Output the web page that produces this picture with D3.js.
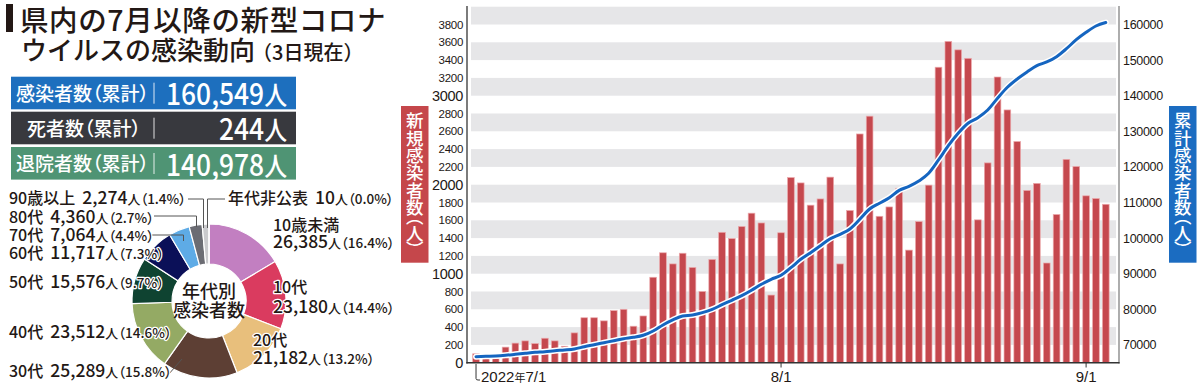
<!DOCTYPE html>
<html>
<head>
<meta charset="utf-8">
<script src="https://cdn.jsdelivr.net/npm/d3@7"></script>
<style>
  body { margin: 0; background: #fff; }
  svg { display: block; font-family: "Noto Sans CJK JP", "Noto Sans", sans-serif; }
</style>
</head>
<body>
<svg width="1200" height="387"></svg>
<script>
// ---- data ----
var dailyCases = [100, 50, 50, 175, 220, 245, 215, 275, 245, 185,
    335, 505, 505, 470, 585, 600, 410, 525, 960, 1235,
    1110, 1230, 1070, 800, 1160, 1465, 1395, 1530, 1680, 1570,
    760, 1460, 2080, 2020, 1770, 1840, 2085, 1110, 1710, 2570,
    2770, 1645, 1750, 1960, 1265, 1585, 1995, 3320, 3610, 3515,
    3420, 1605, 2245, 3210, 2840, 2485, 1935, 2015, 1120, 1665,
    2285, 2205, 1875, 1845, 1780];
var cumulativeCases = [66700, 66800, 66880, 67080, 67360, 67640, 67920, 68090, 68370, 68570,
    68850, 69490, 70060, 70620, 71180, 71740, 72130, 72700, 73900, 75590,
    77000, 78120, 78400, 79050, 80000, 81290, 82530, 83820, 85340, 87020,
    88430, 89550, 91690, 94040, 95900, 97870, 99830, 101070, 102560, 105280,
    108170, 109780, 111350, 113400, 114540, 116040, 118200, 121940, 125960, 129440,
    132250, 133820, 135980, 139270, 142360, 144690, 146660, 148430, 149470, 150960,
    153200, 155730, 157810, 159580, 160549];
var days = d3.timeDay.range(new Date(2022, 6, 1), new Date(2022, 8, 4));
var leftTicks = d3.range(0, 4000, 200);
var bigLeftTicks = [0, 1000, 2000, 3000];
var rightTicks = [70000, 80000, 90000, 100000, 110000, 120000, 130000, 140000, 150000, 160000];
var xTickDays = ["2022-07-01", "2022-08-01", "2022-09-01"];

var summaryLabels = ["感染者数（累計）", "死者数（累計）", "退院者数（累計）"];
var summaryValues = [160549, 244, 140978];

var ageGroups = ["10歳未満", "10代", "20代", "30代", "40代", "50代", "60代", "70代", "80代", "90歳以上", "年代非公表"];
var ageCounts = [26385, 23180, 21182, 25289, 23512, 15576, 11717, 7064, 4360, 2274, 10];
var agePct = ["16.4", "14.4", "13.2", "15.8", "14.6", "9.7", "7.3", "4.4", "2.7", "1.4", "0.0"];

// ---- styles / layout ----
var ageColors = ["#c27fc1", "#da3b5f", "#e8bf7c", "#5d3f34", "#94aa64", "#0f4331", "#0b1058", "#5eabe6", "#6b6c73", "#cacacd", "#e0e0e0"];
var boxColors = ["#1d6fbe", "#38393e", "#4f9474"];
var ink = "#231815";
var latin = '"Liberation Sans", Arial, sans-serif';

var svg = d3.select("svg");

// ---- title ----
svg.append("rect").attr("x", 6).attr("y", 4).attr("width", 7).attr("height", 28).attr("fill", ink);
svg.append("text").attr("x", 20).attr("y", 31).attr("font-size", 28.5).attr("font-weight", 500)
    .style("letter-spacing", "0.6px")
    .attr("fill", ink).text("県内の7月以降の新型コロナ");
var t2 = svg.append("text").attr("x", 21).attr("y", 60).attr("font-size", 26).attr("font-weight", 500)
    .attr("fill", ink);
t2.append("tspan").text("ウイルスの感染動向");
t2.append("tspan").attr("font-size", 20).attr("dx", -3).text("（3日現在）");

// ---- summary boxes ----
var boxY = [76.7, 111.7, 147];
summaryLabels.forEach(function (lab, i) {
    var y0 = boxY[i];
    svg.append("rect").attr("x", 11).attr("y", y0).attr("width", 285).attr("height", 32.6).attr("fill", boxColors[i]);
    svg.append("text").attr("x", i == 1 ? 27 : 16).attr("y", y0 + 24).attr("font-size", 19).attr("font-weight", 500)
        .attr("fill", "#fff").style("font-feature-settings", "'palt'").text(lab);
    svg.append("line").attr("x1", 154).attr("x2", 154).attr("y1", y0 + 6).attr("y2", y0 + 27)
        .attr("stroke", "#fff").attr("stroke-width", 1).attr("opacity", 0.85);
    var v = svg.append("text").attr("transform", "translate(287," + (y0 + 28.5) + ") scale(0.88,1)")
        .attr("text-anchor", "end").attr("fill", "#fff").attr("font-weight", 500);
    v.append("tspan").attr("font-size", 30).text(d3.format(",")(summaryValues[i]));
    v.append("tspan").attr("font-size", 26).text("人");
});

// ---- donut ----
var cx = 209, cy = 301;
var pie = d3.pie().sort(null).value(function (d) { return d; })(ageCounts);
var arc = d3.arc().innerRadius(37).outerRadius(77);
var donut = svg.append("g").attr("transform", "translate(" + cx + "," + cy + ")");
donut.selectAll("path").data(pie).enter().append("path")
    .attr("d", arc)
    .attr("fill", function (d, i) { return ageColors[i]; })
    .attr("stroke", "#fff").attr("stroke-width", 1.2);
donut.append("text").attr("text-anchor", "middle").attr("y", -3).attr("font-size", 18).attr("font-weight", 500)
    .attr("fill", ink).text("年代別");
donut.append("text").attr("text-anchor", "middle").attr("y", 16).attr("font-size", 18).attr("font-weight", 500)
    .attr("fill", ink).text("感染者数");

// leader lines
var leaders = [
    [[168, 375], [182, 359]],
    [[150, 235], [183.5, 235], [183.5, 241]],
    [[154, 216], [196.5, 216], [196.5, 227]],
    [[188, 199], [203.5, 199], [203.5, 228]],
    [[207.5, 228], [207.5, 199], [225, 199]]
];
svg.selectAll(".leader").data(leaders).enter().append("path")
    .attr("class", "leader")
    .attr("d", d3.line())
    .attr("fill", "none").attr("stroke", "#555").attr("stroke-width", 1);

// label layout: [x, y of line1, y of line2 or null]
var labelPos = [
    [273, 231, 247.5], [273, 292.5, 312.5], [253, 346, 364],
    [9, 377, null], [9, 338, null], [9, 288, null], [9, 259, null],
    [9, 241, null], [9, 222.5, null], [9, 204, null], [228, 204, null]
];
function countParts(t, i, dx) {
    t.append("tspan").attr("font-size", 17.5).attr("dx", dx).text(d3.format(",")(ageCounts[i]));
    t.append("tspan").attr("font-size", 13).text("人");
    t.append("tspan").attr("font-size", 13.5).style("font-feature-settings", "'palt'").text("（" + agePct[i] + "%）");
}
ageGroups.forEach(function (g, i) {
    var p = labelPos[i];
    var t = svg.append("text").attr("x", p[0]).attr("y", p[1]).attr("fill", ink).attr("font-weight", 500)
        .attr("stroke", "#fff").attr("stroke-width", 2.5).attr("stroke-linejoin", "round").attr("paint-order", "stroke");
    t.append("tspan").attr("font-size", 16).text(g);
    if (p[2] == null) {
        countParts(t, i, 7);
    } else {
        var t2 = svg.append("text").attr("x", p[0]).attr("y", p[2]).attr("fill", ink).attr("font-weight", 500)
            .attr("stroke", "#fff").attr("stroke-width", 2.5).attr("stroke-linejoin", "round").attr("paint-order", "stroke");
        countParts(t2, i, 0);
    }
});

// ---- bar + line chart ----
var yL = d3.scaleLinear().domain([0, 4000]).range([362.7, 6.7]);
var yR = d3.scaleLinear().domain([65000, 165000]).range([362.7, 6.7]);
var x = d3.scaleBand().domain(d3.range(days.length)).range([471.1, 1110.7])
    .paddingInner(0.32).paddingOuter(0.16);
var xc = function (i) { return x(i) + x.bandwidth() / 2; };

var chart = svg.append("g");
chart.selectAll(".band").data(d3.range(200, 4000, 400)).enter().append("rect")
    .attr("x", 471).attr("width", 645)
    .attr("y", function (d) { return yL(d + 200); })
    .attr("height", function (d) { return yL(d) - yL(d + 200); })
    .attr("fill", "#e6e6e8");

chart.selectAll(".bar").data(dailyCases).enter().append("rect")
    .attr("class", "bar")
    .attr("x", function (d, i) { return x(i); })
    .attr("width", x.bandwidth())
    .attr("y", function (d) { return yL(d); })
    .attr("height", function (d) { return yL(0) - yL(d); })
    .attr("fill", "#c5484e").attr("stroke", "#eca9ac").attr("stroke-width", 0.7);

var cumLine = d3.line()
    .x(function (d, i) { return xc(i); })
    .y(function (d) { return yR(d); })
    .curve(d3.curveMonotoneX);
chart.append("path").datum(cumulativeCases).attr("d", cumLine)
    .attr("fill", "none").attr("stroke", "#fff").attr("stroke-width", 6).attr("stroke-linejoin", "round").attr("stroke-linecap", "round");
chart.append("path").datum(cumulativeCases).attr("d", cumLine)
    .attr("fill", "none").attr("stroke", "#1565c0").attr("stroke-width", 3).attr("stroke-linejoin", "round").attr("stroke-linecap", "round");

// axes
var axL = svg.append("g").attr("transform", "translate(467,0)")
    .call(d3.axisLeft(yL).tickValues(leftTicks).tickFormat(d3.format("d")).tickSize(0).tickPadding(4));
axL.select(".domain").remove();
axL.selectAll("text").attr("fill", ink).style("font-family", latin)
    .style("font-size", function (d) { return bigLeftTicks.indexOf(d) >= 0 ? "14.5px" : "11.5px"; })
    .style("letter-spacing", "-0.3px");
svg.append("line").attr("x1", 467).attr("x2", 467).attr("y1", 6).attr("y2", 363.5)
    .attr("stroke", "#444").attr("stroke-width", 1.4);

var axR = svg.append("g").attr("transform", "translate(1119,0)")
    .call(d3.axisRight(yR).tickValues(rightTicks).tickFormat(d3.format("d")).tickSize(0).tickPadding(4));
axR.select(".domain").remove();
axR.selectAll("text").attr("fill", ink).style("font-family", latin).style("font-size", "12.5px")
    .style("letter-spacing", "-0.3px");
svg.append("line").attr("x1", 1119).attr("x2", 1119).attr("y1", 6).attr("y2", 363.5)
    .attr("stroke", "#777").attr("stroke-width", 1.2);

svg.append("line").attr("x1", 466.3).attr("x2", 1119.6).attr("y1", 362.7).attr("y2", 362.7)
    .attr("stroke", "#333").attr("stroke-width", 1.5);

// x ticks
var parseDay = d3.timeParse("%Y-%m-%d");
xTickDays.forEach(function (s, k) {
    var dt = parseDay(s);
    var i = d3.timeDay.count(days[0], dt);
    var px = xc(i);
    if (k == 0) {
        svg.append("path").attr("d", "M" + px + ",364V378.5Q" + px + ",380 " + (px + 2) + ",380H" + (px + 4))
            .attr("fill", "none").attr("stroke", "#333").attr("stroke-width", 1);
        var t = svg.append("text").attr("x", px + 5).attr("y", 382).attr("fill", ink);
        t.append("tspan").style("font-family", latin).attr("font-size", 15).text(d3.timeFormat("%Y")(dt));
        t.append("tspan").attr("font-size", 11).text("年");
        t.append("tspan").style("font-family", latin).attr("font-size", 15).text((dt.getMonth() + 1) + "/" + dt.getDate());
    } else {
        svg.append("line").attr("x1", px).attr("x2", px).attr("y1", 362.7).attr("y2", 367.5)
            .attr("stroke", "#333").attr("stroke-width", 1);
        svg.append("text").attr("x", px).attr("y", 381.5).attr("text-anchor", "middle")
            .style("font-family", latin).attr("font-size", 15).attr("fill", ink)
            .text((dt.getMonth() + 1) + "/" + dt.getDate());
    }
});

// axis titles
function axisTitle(x0, color, label) {
    svg.append("rect").attr("x", x0).attr("y", 106).attr("width", 27.5).attr("height", 156.7).attr("fill", color);
    svg.append("text").attr("x", x0 + 13.75).attr("y", 112)
        .style("writing-mode", "vertical-rl")
        .style("font-feature-settings", "'vpal'")
        .style("letter-spacing", "-0.2px")
        .attr("font-size", 17.5).attr("font-weight", 500).attr("fill", "#fff")
        .text(label);
}
axisTitle(401, "#c5474b", "新規感染者数（人）");
axisTitle(1169, "#1b6cc1", "累計感染者数（人）");
</script>
</body>
</html>
